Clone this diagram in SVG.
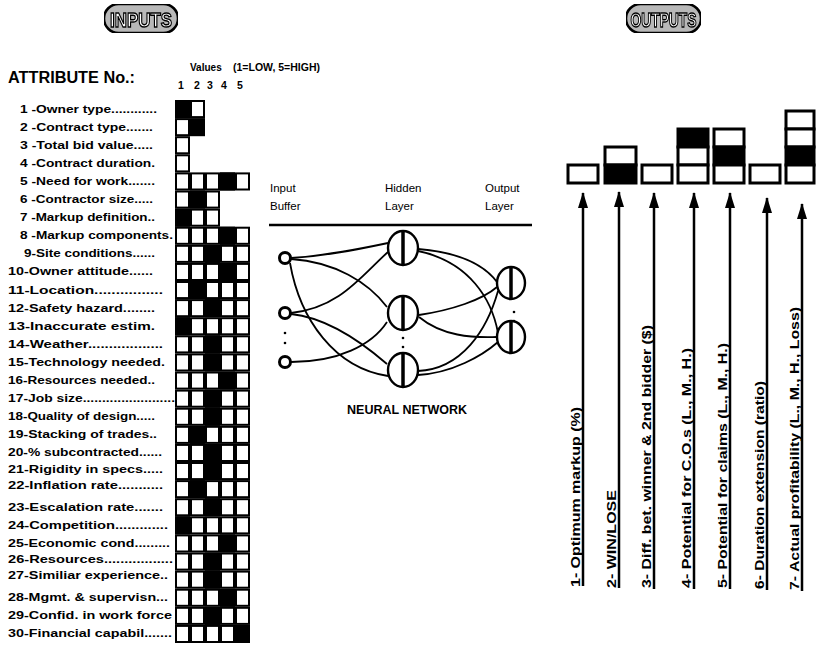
<svg xmlns="http://www.w3.org/2000/svg" xmlns:xlink="http://www.w3.org/1999/xlink" width="816" height="648" viewBox="0 0 816 648">
<style>
text{font-family:"Liberation Sans",Arial,Helvetica,sans-serif}
.b{font-weight:bold}
.lbl{font-weight:bold;font-size:10.5px}
.cw{fill:#fff;stroke:#000;stroke-width:2}
.ck{fill:#000;stroke:#000;stroke-width:2}
.pill{fill:#b8b8b8;stroke:#000;stroke-width:2.5}
.ptxt{font-weight:bold;fill:#fff;stroke:#000;stroke-width:1.4}
.nn{font-size:11.5px}
.edge{fill:none;stroke:#000;stroke-width:1.8}
.inode{fill:#fff;stroke:#000;stroke-width:3}
.hnode{fill:#fff;stroke:#000;stroke-width:2.4}
.ob{stroke:#000;stroke-width:3}
.arr{stroke:#000;stroke-width:2.5;fill:none}
.olbl{font-weight:bold;font-size:13px}
</style>
<defs>
<filter id="gray" x="0" y="0" width="1" height="1" color-interpolation-filters="sRGB">
<feColorMatrix type="saturate" values="0"/>
</filter>
<marker id="ah" viewBox="0 0 16 10" refX="15" refY="5" markerWidth="16" markerHeight="10" markerUnits="userSpaceOnUse" orient="auto">
<path d="M0,0 L16,5 L0,10 z" fill="#000"/>
</marker>
<rect id="w" x="1" y="1" width="13" height="16.1" class="cw"/>
<rect id="k" x="1" y="1" width="13" height="16.1" class="ck"/>
<g id="r5">
<use xlink:href="#w" x="0"/><use xlink:href="#w" x="15"/><use xlink:href="#w" x="30"/><use xlink:href="#w" x="45"/><use xlink:href="#w" x="60"/>
</g>
<g id="r3">
<use xlink:href="#w" x="0"/><use xlink:href="#w" x="15"/><use xlink:href="#w" x="30"/>
</g>
</defs>

<rect width="816" height="648" fill="#fff"/>

<g id="inputs-title" filter="url(#gray)">
<rect class="pill" x="104" y="4" width="74" height="29" rx="14.5"/>
<text class="ptxt" x="141" y="26.5" text-anchor="middle" font-size="21" textLength="62" lengthAdjust="spacingAndGlyphs">INPUTS</text>
</g>
<g id="outputs-title" filter="url(#gray)">
<rect class="pill" x="626" y="4" width="75" height="29" rx="14.5"/>
<text class="ptxt" x="663.5" y="26.5" text-anchor="middle" font-size="21" textLength="66" lengthAdjust="spacingAndGlyphs">OUTPUTS</text>
</g>

<g id="attribute-header">
<text class="b" x="8" y="83" font-size="16" textLength="127" lengthAdjust="spacingAndGlyphs">ATTRIBUTE No.:</text>
<text class="b" x="190" y="71" font-size="10">Values</text>
<text class="b" x="233" y="71" font-size="10" textLength="87" lengthAdjust="spacingAndGlyphs">(1=LOW, 5=HIGH)</text>
<g class="b" font-size="10.5" text-anchor="middle">
<text x="181" y="89">1</text><text x="197" y="89">2</text><text x="210" y="89">3</text><text x="224" y="89">4</text><text x="240" y="89">5</text>
</g>
</g>

<g id="attribute-labels">
<text class="lbl" x="20" y="112.5" textLength="137" lengthAdjust="spacingAndGlyphs">1 -Owner type............</text>
<text class="lbl" x="20" y="130.6" textLength="133" lengthAdjust="spacingAndGlyphs">2 -Contract type.......</text>
<text class="lbl" x="20" y="148.7" textLength="133" lengthAdjust="spacingAndGlyphs">3 -Total bid value.....</text>
<text class="lbl" x="20" y="166.8" textLength="135" lengthAdjust="spacingAndGlyphs">4 -Contract duration.</text>
<text class="lbl" x="20" y="184.9" textLength="135" lengthAdjust="spacingAndGlyphs">5 -Need for work.......</text>
<text class="lbl" x="20" y="203" textLength="133" lengthAdjust="spacingAndGlyphs">6 -Contractor size.....</text>
<text class="lbl" x="20" y="221.1" textLength="135" lengthAdjust="spacingAndGlyphs">7 -Markup definition..</text>
<text class="lbl" x="20" y="239.2" textLength="153" lengthAdjust="spacingAndGlyphs">8 -Markup components.</text>
<text class="lbl" x="24" y="257.3" textLength="131" lengthAdjust="spacingAndGlyphs">9-Site conditions......</text>
<text class="lbl" x="8" y="275.4" textLength="145" lengthAdjust="spacingAndGlyphs">10-Owner attitude......</text>
<text class="lbl" x="8" y="293.5" textLength="155" lengthAdjust="spacingAndGlyphs">11-Location................</text>
<text class="lbl" x="8" y="311.6" textLength="147" lengthAdjust="spacingAndGlyphs">12-Safety hazard........</text>
<text class="lbl" x="8" y="329.7" textLength="147" lengthAdjust="spacingAndGlyphs">13-Inaccurate estim.</text>
<text class="lbl" x="8" y="347.8" textLength="155" lengthAdjust="spacingAndGlyphs">14-Weather..................</text>
<text class="lbl" x="8" y="365.9" textLength="157" lengthAdjust="spacingAndGlyphs">15-Technology needed.</text>
<text class="lbl" x="8" y="384" textLength="147" lengthAdjust="spacingAndGlyphs">16-Resources needed..</text>
<text class="lbl" x="8" y="402.1" textLength="167" lengthAdjust="spacingAndGlyphs">17-Job size........................</text>
<text class="lbl" x="8" y="420.2" textLength="147" lengthAdjust="spacingAndGlyphs">18-Quality of design.....</text>
<text class="lbl" x="8" y="438.3" textLength="149" lengthAdjust="spacingAndGlyphs">19-Stacking of trades..</text>
<text class="lbl" x="8" y="456.4" textLength="154" lengthAdjust="spacingAndGlyphs">20-% subcontracted......</text>
<text class="lbl" x="8" y="473" textLength="155" lengthAdjust="spacingAndGlyphs">21-Rigidity in specs.....</text>
<text class="lbl" x="8" y="489" textLength="155" lengthAdjust="spacingAndGlyphs">22-Inflation rate...........</text>
<text class="lbl" x="8" y="510.7" textLength="155" lengthAdjust="spacingAndGlyphs">23-Escalation rate.......</text>
<text class="lbl" x="8" y="528.8" textLength="160" lengthAdjust="spacingAndGlyphs">24-Competition.............</text>
<text class="lbl" x="8" y="546.9" textLength="162" lengthAdjust="spacingAndGlyphs">25-Economic cond.........</text>
<text class="lbl" x="8" y="563" textLength="165" lengthAdjust="spacingAndGlyphs">26-Resources.................</text>
<text class="lbl" x="8" y="579" textLength="160" lengthAdjust="spacingAndGlyphs">27-Similiar experience..</text>
<text class="lbl" x="8" y="601.2" textLength="160" lengthAdjust="spacingAndGlyphs">28-Mgmt. &amp; supervisn...</text>
<text class="lbl" x="8" y="619.3" textLength="164" lengthAdjust="spacingAndGlyphs">29-Confid. in work force</text>
<text class="lbl" x="8" y="637.4" textLength="164" lengthAdjust="spacingAndGlyphs">30-Financial capabil.......</text>
</g>

<g id="value-grid">
<use xlink:href="#w" x="175" y="100"/><use xlink:href="#w" x="190" y="100"/><use xlink:href="#k" x="175" y="100"/>
<use xlink:href="#w" x="175" y="118.1"/><use xlink:href="#k" x="190" y="118.1"/>
<use xlink:href="#w" x="175" y="136.2"/>
<use xlink:href="#w" x="175" y="154.3"/>
<use xlink:href="#r5" x="175" y="172.4"/><use xlink:href="#k" x="220" y="172.4"/>
<use xlink:href="#r3" x="175" y="190.5"/><use xlink:href="#k" x="190" y="190.5"/>
<use xlink:href="#r3" x="175" y="208.6"/><use xlink:href="#k" x="175" y="208.6"/>
<use xlink:href="#r5" x="175" y="226.7"/><use xlink:href="#k" x="220" y="226.7"/>
<use xlink:href="#r5" x="175" y="244.8"/><use xlink:href="#k" x="205" y="244.8"/>
<use xlink:href="#r5" x="175" y="262.9"/><use xlink:href="#k" x="220" y="262.9"/>
<use xlink:href="#r5" x="175" y="281"/><use xlink:href="#k" x="190" y="281"/>
<use xlink:href="#r5" x="175" y="299.1"/><use xlink:href="#k" x="205" y="299.1"/>
<use xlink:href="#r5" x="175" y="317.2"/><use xlink:href="#k" x="175" y="317.2"/>
<use xlink:href="#r5" x="175" y="335.3"/><use xlink:href="#k" x="205" y="335.3"/>
<use xlink:href="#r5" x="175" y="353.4"/><use xlink:href="#k" x="205" y="353.4"/>
<use xlink:href="#r5" x="175" y="371.5"/><use xlink:href="#k" x="220" y="371.5"/>
<use xlink:href="#r5" x="175" y="389.6"/><use xlink:href="#k" x="205" y="389.6"/>
<use xlink:href="#r5" x="175" y="407.7"/><use xlink:href="#k" x="205" y="407.7"/>
<use xlink:href="#r5" x="175" y="425.8"/><use xlink:href="#k" x="190" y="425.8"/>
<use xlink:href="#r5" x="175" y="443.9"/><use xlink:href="#k" x="205" y="443.9"/>
<use xlink:href="#r5" x="175" y="462"/><use xlink:href="#k" x="205" y="462"/>
<use xlink:href="#r5" x="175" y="480.1"/><use xlink:href="#k" x="190" y="480.1"/>
<use xlink:href="#r5" x="175" y="498.2"/><use xlink:href="#k" x="205" y="498.2"/>
<use xlink:href="#r5" x="175" y="516.3"/><use xlink:href="#k" x="175" y="516.3"/>
<use xlink:href="#r5" x="175" y="534.4"/><use xlink:href="#k" x="220" y="534.4"/>
<use xlink:href="#r5" x="175" y="552.5"/><use xlink:href="#k" x="205" y="552.5"/>
<use xlink:href="#r5" x="175" y="570.6"/><use xlink:href="#k" x="205" y="570.6"/>
<use xlink:href="#r5" x="175" y="588.7"/><use xlink:href="#k" x="220" y="588.7"/>
<use xlink:href="#r5" x="175" y="606.8"/><use xlink:href="#k" x="205" y="606.8"/>
<use xlink:href="#r5" x="175" y="624.9"/><use xlink:href="#k" x="235" y="624.9"/>
</g>

<g id="nn-header">
<text class="nn" x="270" y="192">Input</text>
<text class="nn" x="270" y="210">Buffer</text>
<text class="nn" x="385" y="192">Hidden</text>
<text class="nn" x="385" y="210">Layer</text>
<text class="nn" x="485" y="192">Output</text>
<text class="nn" x="485" y="210">Layer</text>
<line x1="269" y1="225" x2="532" y2="225" stroke="#000" stroke-width="2.5"/>
</g>

<g id="connectors">
<path class="edge" d="M291,258 C325,256 355,250 388,243"/>
<path class="edge" d="M291,259 C335,262 368,282 387,307"/>
<path class="edge" d="M290,263 C300,320 335,368 388,376"/>
<path class="edge" d="M291,313 C340,308 362,275 388,252"/>
<path class="edge" d="M291,314 C330,318 365,345 387,364"/>
<path class="edge" d="M291,362 C338,362 372,345 387,322"/>
<path class="edge" d="M418,249 C455,252 482,262 497,282"/>
<path class="edge" d="M418,251 C470,262 492,300 498,333"/>
<path class="edge" d="M419,315 C452,310 482,300 497,287"/>
<path class="edge" d="M419,317 C442,336 472,338 497,337"/>
<path class="edge" d="M418,371 C462,369 487,330 498,291"/>
<path class="edge" d="M418,375 C452,373 482,356 498,342"/>
</g>

<g id="input-nodes">
<circle class="inode" cx="285" cy="258" r="5.5"/>
<circle class="inode" cx="285" cy="313" r="5.5"/>
<circle class="inode" cx="285" cy="362" r="5.5"/>
<circle cx="285" cy="333" r="1.3"/><circle cx="285" cy="343" r="1.3"/>
</g>
<g id="hidden-nodes">
<ellipse class="hnode" cx="403" cy="248" rx="15" ry="17"/><line x1="403" y1="231" x2="403" y2="265" stroke="#000" stroke-width="3.5"/>
<ellipse class="hnode" cx="403" cy="313" rx="15" ry="17"/><line x1="403" y1="296" x2="403" y2="330" stroke="#000" stroke-width="3.5"/>
<ellipse class="hnode" cx="403" cy="370" rx="15" ry="17"/><line x1="403" y1="353" x2="403" y2="387" stroke="#000" stroke-width="3.5"/>
<circle cx="403" cy="338" r="1.3"/><circle cx="403" cy="347" r="1.3"/>
</g>
<g id="output-nodes">
<ellipse class="hnode" cx="511" cy="283" rx="14" ry="16"/><line x1="511" y1="267" x2="511" y2="299" stroke="#000" stroke-width="3.5"/>
<ellipse class="hnode" cx="511" cy="337" rx="14" ry="16"/><line x1="511" y1="321" x2="511" y2="353" stroke="#000" stroke-width="3.5"/>
<circle cx="514" cy="312" r="1.3"/><circle cx="514" cy="321" r="1.3"/>
</g>
<text class="b" x="407" y="414" font-size="12.5" text-anchor="middle">NEURAL NETWORK</text>

<g id="output-boxes">
<rect class="ob" x="568" y="165" width="30" height="18" fill="#fff"/>
<rect class="ob" x="605" y="147" width="31" height="18" fill="#fff"/>
<rect class="ob" x="605" y="165" width="31" height="18" fill="#000"/>
<rect class="ob" x="642" y="165" width="30" height="18" fill="#fff"/>
<rect class="ob" x="678" y="129" width="30" height="18" fill="#000"/>
<rect class="ob" x="678" y="147" width="30" height="18" fill="#fff"/>
<rect class="ob" x="678" y="165" width="30" height="18" fill="#fff"/>
<rect class="ob" x="714" y="129" width="30" height="18" fill="#fff"/>
<rect class="ob" x="714" y="147" width="30" height="18" fill="#000"/>
<rect class="ob" x="714" y="165" width="30" height="18" fill="#fff"/>
<rect class="ob" x="750" y="165" width="30" height="18" fill="#fff"/>
<rect class="ob" x="786" y="111" width="28" height="18" fill="#fff"/>
<rect class="ob" x="786" y="129" width="28" height="18" fill="#fff"/>
<rect class="ob" x="786" y="147" width="28" height="18" fill="#000"/>
<rect class="ob" x="786" y="165" width="28" height="18" fill="#fff"/>
</g>

<g id="output-arrows">
<line class="arr" x1="583" y1="586" x2="583" y2="193" marker-end="url(#ah)"/>
<line class="arr" x1="619" y1="588" x2="619" y2="192" marker-end="url(#ah)"/>
<line class="arr" x1="654" y1="589" x2="654" y2="193" marker-end="url(#ah)"/>
<line class="arr" x1="694" y1="589" x2="694" y2="193" marker-end="url(#ah)"/>
<line class="arr" x1="730" y1="589" x2="730" y2="193" marker-end="url(#ah)"/>
<line class="arr" x1="767" y1="590" x2="767" y2="198" marker-end="url(#ah)"/>
<line class="arr" x1="802" y1="591" x2="802" y2="204" marker-end="url(#ah)"/>
</g>

<g id="output-labels">
<text class="olbl" transform="translate(580,587) rotate(-90)" textLength="180" lengthAdjust="spacingAndGlyphs">1- Optimum markup (%)</text>
<text class="olbl" transform="translate(616,588) rotate(-90)" textLength="98" lengthAdjust="spacingAndGlyphs">2- WIN/LOSE</text>
<text class="olbl" transform="translate(651,588) rotate(-90)" textLength="263" lengthAdjust="spacingAndGlyphs">3- Diff. bet. winner &amp; 2nd bidder ($)</text>
<text class="olbl" transform="translate(691,588) rotate(-90)" textLength="240" lengthAdjust="spacingAndGlyphs">4- Potential for C.O.s (L., M., H.)</text>
<text class="olbl" transform="translate(727,588) rotate(-90)" textLength="245" lengthAdjust="spacingAndGlyphs">5- Potential for claims (L., M., H.)</text>
<text class="olbl" transform="translate(764,589) rotate(-90)" textLength="208" lengthAdjust="spacingAndGlyphs">6- Duration extension (ratio)</text>
<text class="olbl" transform="translate(799,590) rotate(-90)" textLength="283" lengthAdjust="spacingAndGlyphs">7- Actual profitability (L., M., H., Loss)</text>
</g>
</svg>
